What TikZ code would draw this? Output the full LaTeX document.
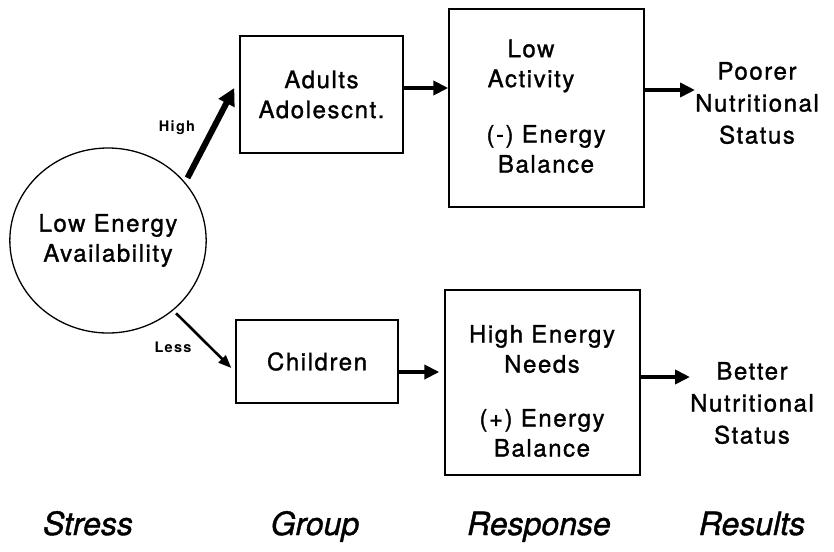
\documentclass[tikz,border=0pt]{standalone}
\usepackage{fontspec}
\setmainfont{TeX Gyre Heros}[LetterSpace=6.5,FakeBold=1.2]
\newfontfamily\capfont{TeX Gyre Heros}[FakeBold=1.2]
\newfontfamily\lblfont{TeX Gyre Heros}[LetterSpace=9]
\usetikzlibrary{arrows.meta,shapes.geometric,calc}
\begin{document}
\begin{tikzpicture}[x=1pt,y=-1pt,
  box/.style={draw,line width=1.4pt,inner sep=0pt},
  txt/.style={align=center,inner sep=0pt,font=\fontsize{24}{30}\selectfont},
  restxt/.style={align=center,inner sep=0pt,font=\fontsize{24}{32}\selectfont},
  lbl/.style={inner sep=0pt,font=\lblfont\fontsize{14.5}{16}\selectfont\bfseries},
  coltitle/.style={inner sep=0pt,anchor=base,font=\capfont\fontsize{32}{36}\selectfont\itshape},
  mainarrow/.style={line width=4.5pt,-{Triangle[length=15pt,width=14pt]}},
  higharrow/.style={line width=6pt,-{Triangle[length=17pt,width=17pt]}},
  lessarrow/.style={line width=2.6pt,-{Triangle[length=13pt,width=10pt]}}
]
\useasboundingbox (0,0) rectangle (834,551);

% stress
\node[ellipse,draw,line width=1.3pt,inner sep=0pt,minimum width=174pt,minimum height=185pt,
      align=center,font=\fontsize{24}{30}\selectfont] (circ) at (108,240.5) {Low Energy\\Availability};

% groups
\node[box,minimum width=163pt,minimum height=117pt,txt] (adults) at (321.5,94.5) {Adults\\Adolescnt.};
\node[box,minimum width=162pt,minimum height=83pt,txt] (child) at (317,361.5) {Children};

% responses
\node[box,minimum width=195pt,minimum height=198pt] (act) at (546.5,108) {};
\node[txt] (t1) at (531,66) {Low\\Activity};
\node[txt] (t2) at (546,149) {(-) Energy\\Balance};

\node[box,minimum width=195pt,minimum height=185pt] (needs) at (542.5,382.5) {};
\node[txt] (t3) at (542,349) {High Energy\\Needs};
\node[txt] (t4) at (542,433) {(+) Energy\\Balance};

% results
\node[restxt] (poor) at (757,103) {Poorer\\Nutritional\\Status};
\node[restxt] (better) at (752,403) {Better\\Nutritional\\Status};

% labels
\node[lbl] (high) at (177,128) {High};
\node[lbl] (less) at (173,347) {Less};

% column captions
\node[coltitle] (c1) at (88,535) {Stress};
\node[coltitle] (c2) at (315,535) {Group};
\node[coltitle] (c3) at (539,535) {Response};
\node[coltitle] (c4) at (752,535) {Results};

% connectors
\draw[higharrow,shorten <=5pt] (circ.37) -- ([xshift=-5pt,yshift=6.5pt]adults.west);
\draw[lessarrow,shorten <=4pt] (circ.-47) -- ([xshift=-4pt,yshift=-6.5pt]child.west);
\draw[mainarrow] ([yshift=6.5pt]adults.east) -- ([yshift=6.5pt]adults.east -| act.west);
\draw[mainarrow] ([yshift=18pt]act.east) -- ([yshift=18pt]act.east -| poor.west);
\draw[mainarrow,shorten >=5pt] ([yshift=-10.5pt]child.east) -- ([yshift=-10.5pt]child.east -| needs.west);
\draw[mainarrow] ([yshift=5.5pt]needs.east) -- ([yshift=5.5pt]needs.east -| better.west);
\end{tikzpicture}
\end{document}
